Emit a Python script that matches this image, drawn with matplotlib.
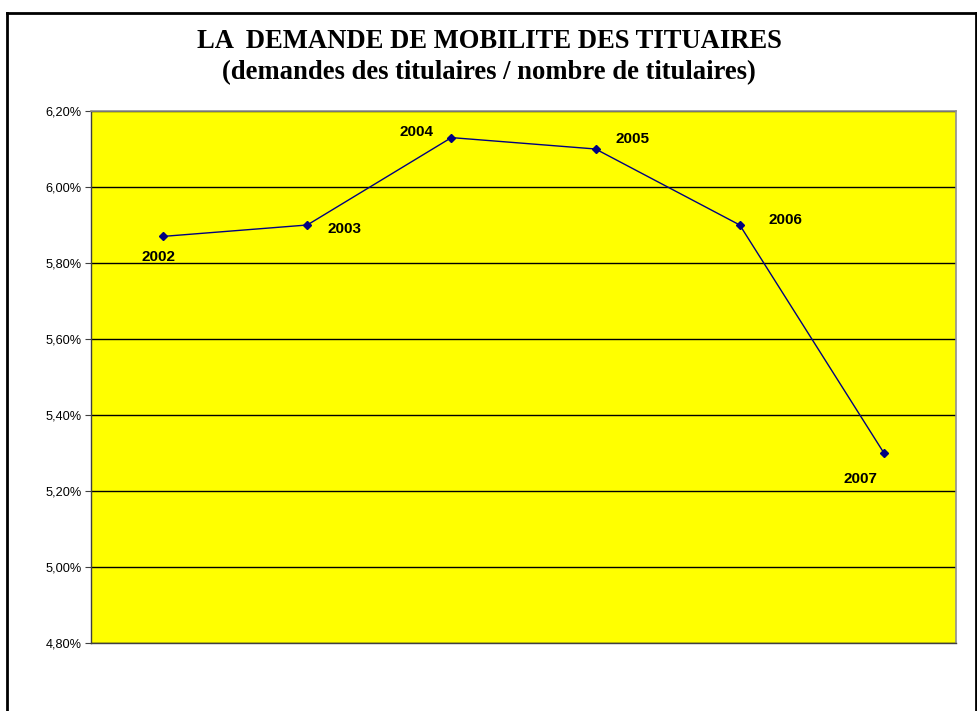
import matplotlib
matplotlib.use("Agg")
import matplotlib.pyplot as plt
from matplotlib.ticker import FuncFormatter

years = ["2002", "2003", "2004", "2005", "2006", "2007"]
values = [5.87, 5.90, 6.13, 6.10, 5.90, 5.30]
label_offsets = [(-3.6, -17.5), (27.0, -6.0), (-25.2, 1.5), (26.6, 4.1), (32.8, 0.7), (-16.9, -21.6)]
yticks = [4.80, 5.00, 5.20, 5.40, 5.60, 5.80, 6.00, 6.20]

W, H = 978, 711
fig = plt.figure(figsize=(W / 100, H / 100), dpi=100)

# figure border (left, top, right)
ty = 1 - 13 / H
lx, rx = 7 / W, 976.5 / W
for xs_, ys_ in [([lx, lx], [0, ty]), ([lx, rx], [ty, ty]), ([rx, rx], [0, ty])]:
    fig.add_artist(plt.Line2D(xs_, ys_, color="black", lw=2, transform=fig.transFigure))

x0, x1, y0, y1 = 91, 956, 111, 643
ax = fig.add_axes([x0 / W, 1 - y1 / H, (x1 - x0) / W, (y1 - y0) / H])
ax.set_facecolor("#FFFF00")

xs = list(range(len(years)))
ax.plot(xs, values, color="#000080", lw=1, marker="D", markersize=4.5, zorder=3)
for x, v, lab, off in zip(xs, values, years, label_offsets):
    ax.annotate(lab, (x, v), xytext=off, textcoords="offset points", ha="center", va="baseline",
                fontsize=11, fontweight="bold", family="Liberation Sans", color="black")

ax.set_xlim(-0.5, len(years) - 0.5)
ax.set_ylim(4.80, 6.20)
ax.set_yticks(yticks)
ax.yaxis.set_major_formatter(FuncFormatter(lambda v, p: f"{v:.2f}%".replace(".", ",")))
ax.set_xticks([])
ax.grid(axis="y", color="black", lw=1.0)
ax.set_axisbelow(True)
for lab in ax.get_yticklabels():
    lab.set_family("Liberation Sans")
    lab.set_fontsize(9.2)
ax.tick_params(axis="y", length=4, width=0.8, color="#404040", pad=3)
for s in ["left", "bottom"]:
    ax.spines[s].set_color("#404040")
    ax.spines[s].set_linewidth(1)
for s in ["top", "right"]:
    ax.spines[s].set_color("#909090")
    ax.spines[s].set_linewidth(1.2)

fig.text(0.5, 1 - 48 / H, "LA  DEMANDE DE MOBILITE DES TITUAIRES", ha="center", va="baseline",
         family="Liberation Serif", fontweight="bold", fontsize=19.2)
fig.text(0.5, 1 - 79 / H, "(demandes des titulaires / nombre de titulaires)", ha="center", va="baseline",
         family="Liberation Serif", fontweight="bold", fontsize=19.2)

fig.savefig("out.png", dpi=100)
